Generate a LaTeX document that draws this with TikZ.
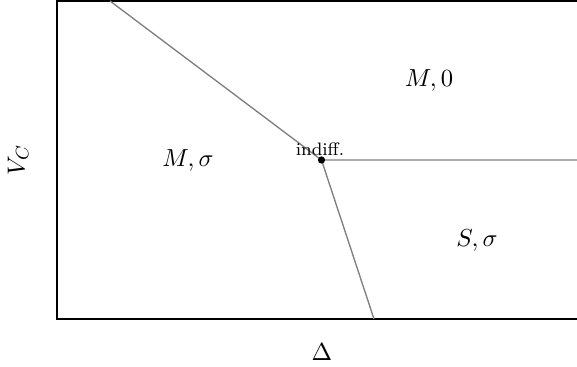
\documentclass[tikz,border=0pt]{standalone}
\begin{document}
\begin{tikzpicture}[x=0.4444pt,y=-0.4444pt,
  frame/.style={line width=0.85pt,black},
  bound/.style={line width=0.6pt,gray},
  lbl/.style={inner sep=0pt,font=\fontsize{11}{13}\selectfont}]
\useasboundingbox (0,0) rectangle (577,367);
\draw[frame] (579,1) -- (57,1) -- (57,319) -- (579,319);
\coordinate (top) at (110,1);
\coordinate (right) at (579,160);
\coordinate (bot) at (374,319);
\coordinate (p) at (321.5,160);
\draw[bound] (top) -- (p) -- (right);
\draw[bound] (p) -- (bot);
\fill (p) circle (1.6pt);
\node[inner sep=0pt,font=\footnotesize] (ind) at (320,149) {indiff.};
\node[lbl] (m0) at (429,80) {$M,0$};
\node[lbl] (ms) at (188,160) {$M,\sigma$};
\node[lbl] (ss) at (477,240) {$S,\sigma$};
\node[lbl,rotate=90] (vc) at (18,160) {$V_C$};
\node[lbl] (d) at (322,352) {$\Delta$};
\end{tikzpicture}
\end{document}
